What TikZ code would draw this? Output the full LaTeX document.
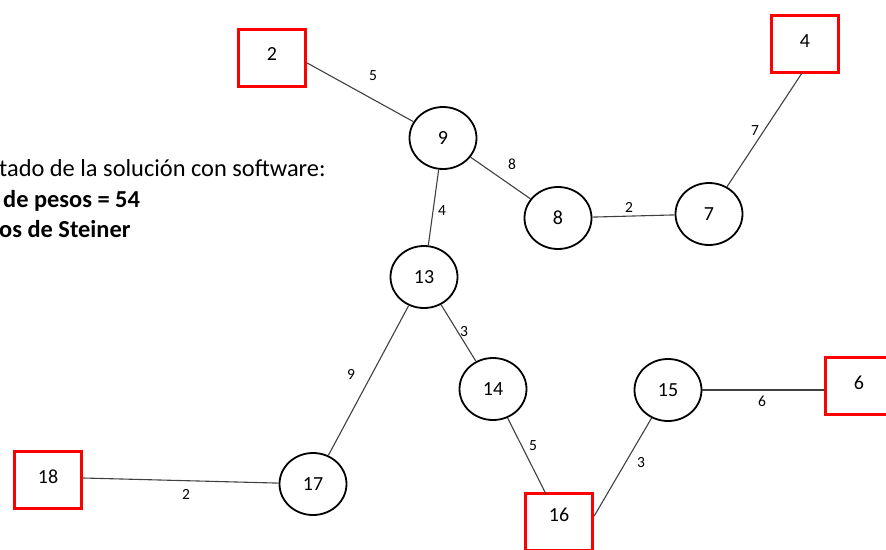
\documentclass[tikz,border=0pt]{standalone}
\usepackage{fontspec}
\setmainfont{Carlito}
\usetikzlibrary{shapes.geometric}
\begin{document}
\begin{tikzpicture}[x=1pt,y=-1pt,
  circ/.style={ellipse,draw=black,line width=1.8pt,minimum width=67pt,minimum height=62pt,inner sep=0pt,font=\fontsize{20}{24}\selectfont},
  term/.style={rectangle,draw=red,line width=3.4pt,minimum width=67pt,minimum height=57pt,inner sep=0pt,font=\fontsize{20}{24}\selectfont},
  edge/.style={draw=black!75,line width=1.1pt},
  wlab/.style={font=\fontsize{15.5}{18}\selectfont,inner sep=0pt},
  txt/.style={anchor=base west,inner sep=0pt,font=\fontsize{24.4}{29}\selectfont}]
\useasboundingbox (0,0) rectangle (886,549);
\clip (0,0) rectangle (886,549);

% explanatory text
\node[txt] (t1) at (-1,176) {tado de la solución con software:};
\node[txt,font=\fontsize{24.4}{29}\selectfont\bfseries] (t2) at (3,207) {de pesos = 54};
\node[txt,font=\fontsize{24.4}{29}\selectfont\bfseries] (t3) at (-1,237) {os de Steiner};

% terminal nodes (labels sit in the upper part of each box)
\node[term] (n2) at (272,58) {\raisebox{7pt}{2}};
\node[term] (n4) at (805,44) {\raisebox{6.5pt}{4}};
\node[term] (n6) at (859,386) {\raisebox{7pt}{6}};
\node[term] (n16) at (559,522) {\raisebox{14pt}{16}};
\node[term] (n18) at (48,480) {\raisebox{6pt}{18}};

% Steiner nodes
\node[circ] (n9) at (443,138) {9};
\node[circ] (n8) at (558,218) {8};
\node[circ] (n7) at (709,214) {7};
\node[circ] (n13) at (424,277) {13};
\node[circ] (n14) at (493,389) {14};
\node[circ] (n15) at (668,390) {15};
\node[circ] (n17) at (313,484) {17};

% attachment points on the terminal boxes
\coordinate (a2) at (n2.east |- 0,63);
\coordinate (a4) at (802,73);
\coordinate (a6) at (n6.west |- 0,390);
\coordinate (a16n) at (546,494);
\coordinate (a16e) at (n16.east |- 0,516);
\coordinate (a18) at (n18.east |- 0,478);

% edges
\draw[edge] (a2) -- (n9);
\draw[edge] (n9) -- (n8);
\draw[edge] (n8) -- (n7);
\draw[edge] (a4) -- (n7);
\draw[edge] (n9) -- (n13);
\draw[edge] (n13) -- (n14);
\draw[edge] (n13) -- (n17);
\draw[edge] (n14) -- (a16n);
\draw[edge] (n15) -- (a16e);
\draw[edge] (n15) -- (a6);
\draw[edge] (a18) -- (n17);

% weights
\node[wlab] (w1) at (373,76) {5};
\node[wlab] (w2) at (512,164) {8};
\node[wlab] (w3) at (629,207) {2};
\node[wlab] (w4) at (755,131) {7};
\node[wlab] (w5) at (442,211) {4};
\node[wlab] (w6) at (464,332) {3};
\node[wlab] (w7) at (351,374) {9};
\node[wlab] (w8) at (533,446) {5};
\node[wlab] (w9) at (641,463) {3};
\node[wlab] (w10) at (762,401) {6};
\node[wlab] (w11) at (186,494) {2};
\end{tikzpicture}
\end{document}
